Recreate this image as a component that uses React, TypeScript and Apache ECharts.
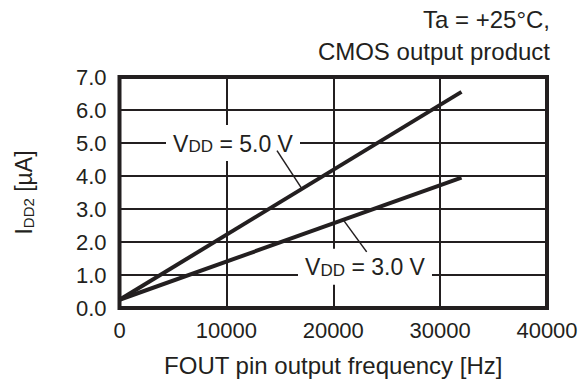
import React, { useEffect, useRef } from "react";
import * as echarts from "echarts";

const INK = "#231f20";
const FONT = "'Liberation Sans', Arial, sans-serif";

// FOUT frequency [Hz]
const freq = [0, 32000];
// IDD2 [µA]
const idd5V = [0.25, 6.55];
const idd3V = [0.25, 3.95];

const xTicks = [0, 10000, 20000, 30000, 40000];
const yTicks = [0, 1, 2, 3, 4, 5, 6, 7];

const vddLabels = ["5.0", "3.0"];
const labelCenter = [
  [10620, 5.0],
  [22970, 1.25],
];
const leaderFrom = [
  [14736, 4.77],
  [23128, 1.7],
];
const leaderTo = [
  [17075, 3.61],
  [20940, 2.67],
];

export default function App() {
  const ref = useRef<HTMLDivElement>(null);
  useEffect(() => {
    if (!ref.current) return;
    const chart = echarts.init(ref.current, null, { renderer: "svg" });
    const annData = vddLabels.map((_, i) => [
      labelCenter[i][0],
      labelCenter[i][1],
      leaderFrom[i][0],
      leaderFrom[i][1],
      leaderTo[i][0],
      leaderTo[i][1],
      i,
    ]);
    chart.setOption({
      animation: false,
      textStyle: { fontFamily: FONT, color: INK },
      grid: {
        left: 119.5,
        right: 34,
        top: 77,
        bottom: 70,
        show: true,
        borderColor: INK,
        borderWidth: 4,
        backgroundColor: "transparent",
      },
      graphic: [
        {
          type: "text",
          x: 550,
          y: 19.6,
          style: {
            text: "Ta = +25°C,",
            font: `24px ${FONT}`,
            fill: INK,
            textAlign: "right",
            textVerticalAlign: "middle",
          },
        },
        {
          type: "text",
          x: 550,
          y: 51.6,
          style: {
            text: "CMOS output product",
            font: `24px ${FONT}`,
            fill: INK,
            textAlign: "right",
            textVerticalAlign: "middle",
          },
        },
      ],
      xAxis: {
        type: "value",
        min: xTicks[0],
        max: xTicks[xTicks.length - 1],
        interval: xTicks[1] - xTicks[0],
        name: "FOUT pin output frequency [Hz]",
        nameLocation: "middle",
        nameGap: 45,
        nameTextStyle: { fontSize: 24, color: INK, fontFamily: FONT },
        axisLine: { show: false },
        axisTick: { show: false },
        axisLabel: {
          fontSize: 22,
          color: INK,
          margin: 11,
          fontFamily: FONT,
          formatter: (v: number) => String(v),
        },
        splitLine: { show: true, lineStyle: { color: INK, width: 2 } },
      },
      yAxis: {
        type: "value",
        min: yTicks[0],
        max: yTicks[yTicks.length - 1],
        interval: yTicks[1] - yTicks[0],
        name: "{n|I}{s|DD2}{n| [µA]}",
        nameLocation: "middle",
        nameRotate: 90,
        nameGap: 84,
        nameTextStyle: {
          fontSize: 23,
          color: INK,
          fontFamily: FONT,
          rich: {
            n: { fontSize: 23, color: INK, fontFamily: FONT, verticalAlign: "bottom", lineHeight: 24 },
            s: { fontSize: 15, color: INK, fontFamily: FONT, verticalAlign: "bottom", lineHeight: 18 },
          },
        },
        axisLine: { show: false },
        axisTick: { show: false },
        axisLabel: {
          fontSize: 22,
          color: INK,
          margin: 13,
          fontFamily: FONT,
          formatter: (v: number) => v.toFixed(1),
        },
        splitLine: { show: true, lineStyle: { color: INK, width: 2 } },
      },
      series: [
        {
          type: "line",
          data: freq.map((f, i) => [f, idd5V[i]]),
          symbol: "none",
          lineStyle: { color: INK, width: 4 },
          z: 3,
        },
        {
          type: "line",
          data: freq.map((f, i) => [f, idd3V[i]]),
          symbol: "none",
          lineStyle: { color: INK, width: 4 },
          z: 3,
        },
        {
          type: "custom",
          coordinateSystem: "cartesian2d",
          data: annData,
          encode: { x: 0, y: 1 },
          z: 4,
          clip: false,
          renderItem: (params: any, api: any) => {
            const c = api.coord([api.value(0), api.value(1)]);
            const a = api.coord([api.value(2), api.value(3)]);
            const b = api.coord([api.value(4), api.value(5)]);
            const idx = api.value(6);
            const w = 134;
            const h = 36;
            return {
              type: "group",
              children: [
                {
                  type: "rect",
                  shape: { x: c[0] - w / 2, y: c[1] - h / 2, width: w, height: h },
                  style: { fill: "#ffffff" },
                },
                {
                  type: "line",
                  shape: { x1: a[0], y1: a[1], x2: b[0], y2: b[1] },
                  style: { stroke: INK, lineWidth: 1.5 },
                },
                {
                  type: "text",
                  x: c[0],
                  y: c[1],
                  style: {
                    text: `{n|V}{s|DD}{n| = ${vddLabels[idx]} V}`,
                    align: "center",
                    verticalAlign: "middle",
                    rich: {
                      n: { fontSize: 23, fontFamily: FONT, fill: INK, verticalAlign: "bottom", lineHeight: 24 },
                      s: { fontSize: 17, fontFamily: FONT, fill: INK, verticalAlign: "bottom", lineHeight: 20 },
                    },
                  },
                },
              ],
            };
          },
        },
      ],
    });
    return () => chart.dispose();
  }, []);
  return (
    <div
      ref={ref}
      style={{ position: "absolute", left: 0, top: 0, width: 581, height: 382, background: "#fff" }}
    />
  );
}
